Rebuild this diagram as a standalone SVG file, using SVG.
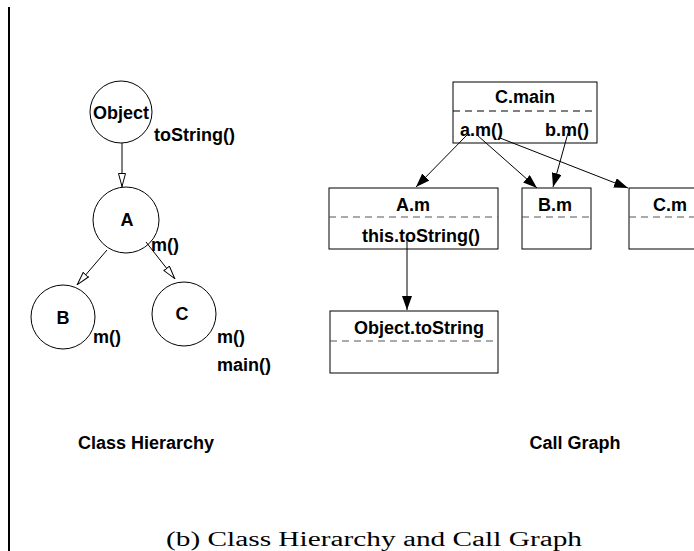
<svg xmlns="http://www.w3.org/2000/svg" width="694" height="551" viewBox="0 0 694 551">
<style>
.lbl{font-family:"Liberation Sans",Arial,sans-serif;font-weight:bold;font-size:18px;fill:#000}
.mid{text-anchor:middle}
.node{fill:#fff;stroke:#000;stroke-width:1}
.dash{stroke:#555;stroke-width:1;stroke-dasharray:7 5;fill:none}
.edge{stroke:#000;stroke-width:1;fill:none}
.cap{font-family:"Liberation Serif","Times New Roman",serif;font-size:20px;fill:#000;text-anchor:middle}
</style>
<defs>
<marker id="hollow" viewBox="0 0 14 8" refX="14" refY="4" markerWidth="14" markerHeight="8" markerUnits="userSpaceOnUse" orient="auto">
<path d="M0.5,0.5 L13.5,4 L0.5,7.5 Z" fill="#fff" stroke="#000" stroke-width="1"/>
</marker>
<marker id="filled" viewBox="0 0 14 10" refX="14" refY="5" markerWidth="14" markerHeight="10" markerUnits="userSpaceOnUse" orient="auto">
<path d="M0,0 L14,5 L0,10 Z" fill="#000"/>
</marker>
</defs>
<rect width="694" height="551" fill="#fff"/>
<line x1="9" y1="7" x2="9" y2="551" stroke="#000" stroke-width="2"/>

<g id="connectors">
<line class="edge" x1="122" y1="143" x2="122" y2="187" marker-end="url(#hollow)"/>
<line class="edge" x1="107" y1="250" x2="77" y2="285" marker-end="url(#hollow)"/>
<line class="edge" x1="146" y1="242" x2="175" y2="279" marker-end="url(#hollow)"/>
<line class="edge" x1="467" y1="135" x2="416" y2="187" marker-end="url(#filled)"/>
<line class="edge" x1="477" y1="135" x2="537" y2="188" marker-end="url(#filled)"/>
<line class="edge" x1="500" y1="138" x2="628" y2="188" marker-end="url(#filled)"/>
<line class="edge" x1="568" y1="133" x2="553" y2="187" marker-end="url(#filled)"/>
<line class="edge" x1="407" y1="237" x2="407" y2="310" marker-end="url(#filled)"/>
</g>

<g id="Object">
<circle class="node" cx="121" cy="112" r="31" fill-opacity="0"/>
<text class="lbl mid" x="121" y="119">Object</text>
<text class="lbl" x="154" y="141">toString()</text>
</g>
<g id="A">
<circle class="node" cx="126" cy="220" r="33" fill-opacity="0"/>
<text class="lbl mid" x="127" y="226">A</text>
<text class="lbl" x="151" y="251">m()</text>
</g>
<g id="B">
<circle class="node" cx="63" cy="317" r="32" fill-opacity="0"/>
<text class="lbl mid" x="63" y="324">B</text>
<text class="lbl" x="93" y="343">m()</text>
</g>
<g id="C">
<circle class="node" cx="184" cy="314" r="32" fill-opacity="0"/>
<text class="lbl mid" x="182" y="320">C</text>
<text class="lbl" x="217" y="343">m()</text>
<text class="lbl" x="217" y="371">main()</text>
</g>

<g id="C.main">
<rect class="node" x="453" y="82" width="144" height="61" fill-opacity="0"/>
<line class="dash" x1="453" y1="111" x2="597" y2="111" style="stroke:#000"/>
<text class="lbl mid" x="525" y="103">C.main</text>
<text class="lbl" x="460" y="136">a.m()</text>
<text class="lbl" x="545" y="136">b.m()</text>
</g>
<g id="A.m">
<rect class="node" x="329" y="188" width="169" height="61" fill-opacity="0"/>
<line class="dash" x1="329" y1="217" x2="498" y2="217"/>
<text class="lbl mid" x="413" y="211">A.m</text>
<text class="lbl mid" x="421" y="242">this.toString()</text>
</g>
<g id="B.m">
<rect class="node" x="522" y="188" width="69" height="61" fill-opacity="0"/>
<line class="dash" x1="522" y1="217" x2="591" y2="217"/>
<text class="lbl mid" x="555" y="211">B.m</text>
</g>
<g id="C.m">
<rect class="node" x="629" y="188" width="120" height="61" fill-opacity="0"/>
<line class="dash" x1="629" y1="217" x2="694" y2="217"/>
<text class="lbl mid" x="670" y="211">C.m</text>
</g>
<g id="Object.toString">
<rect class="node" x="330" y="311" width="168" height="62" fill-opacity="0"/>
<line class="dash" x1="330" y1="341" x2="498" y2="341"/>
<text class="lbl mid" x="419" y="334">Object.toString</text>
</g>

<text class="lbl mid" x="146" y="449">Class Hierarchy</text>
<text class="lbl mid" x="575" y="449">Call Graph</text>
<text class="cap" x="374" y="546" textLength="416" lengthAdjust="spacingAndGlyphs">(b) Class Hierarchy and Call Graph</text>
</svg>
